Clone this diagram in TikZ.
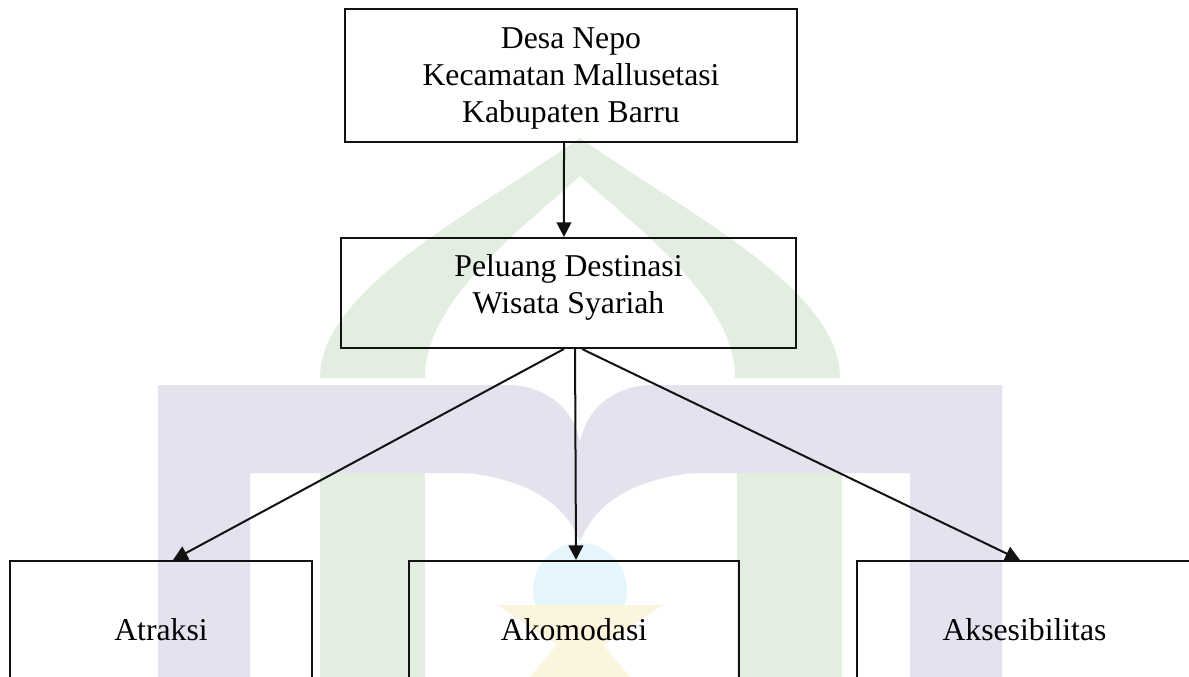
\documentclass[tikz,border=0pt]{standalone}
\usepackage{fontspec}
\setmainfont{Liberation Serif}
\usetikzlibrary{arrows.meta}

\definecolor{wmLavender}{HTML}{E3E3EF}
\definecolor{wmGreen}{HTML}{E2EFE0}
\definecolor{wmBlue}{HTML}{E5F6FC}
\definecolor{wmYellow}{HTML}{FBF5DE}
\definecolor{lineInk}{HTML}{121212}

\begin{document}
\begin{tikzpicture}[x=0.75pt,y=0.75pt,yscale=-1,xscale=1,
    box/.style={draw=lineInk, line width=1.5pt, rectangle, inner sep=0pt, align=center, font=\fontsize{23.8}{27.8}\selectfont},
    arr/.style={draw=lineInk, line width=1.5pt, -{Triangle[length=11pt,width=11pt]}}]
    \useasboundingbox (0,0) rectangle (1189,677);
    \clip (0,0) rectangle (1189,677);

    %Shape: Watermark book [id:lavender]
    \fill [wmLavender] (158,700) -- (158,385) -- (513,385) .. controls (545,388) and (572,405) .. (580,442) .. controls (588,405) and (615,388) .. (647,385) -- (1002,385) -- (1002,700) -- (910,700) -- (910,473) -- (693,473) .. controls (630,480) and (594,505) .. (580,542) .. controls (566,505) and (530,480) .. (467,473) -- (250,473) -- (250,700) -- cycle ;
    %Shape: Watermark dome [id:green]
    \fill [wmGreen] (320,378) .. controls (320,290) and (470,215) .. (580,138) .. controls (690,215) and (840,290) .. (840,378) -- (735,378) .. controls (735,300) and (640,230) .. (580,176) .. controls (520,230) and (425,300) .. (425,378) -- cycle ;
    \fill [wmGreen] (320,473) rectangle (425,700) ;
    \fill [wmGreen] (737,473) rectangle (842,700) ;
    %Shape: Watermark globe [id:blue]
    \fill [wmBlue] (580,590) circle [radius=47] ;
    %Shape: Watermark cross [id:yellow]
    \fill [wmYellow] (497,605) -- (663,605) -- (603,645) -- (650,700) -- (510,700) -- (557,645) -- cycle ;

    % Text Node
    \node [box, minimum width=339pt, minimum height=99.75pt, text depth=0pt] (desa) at (571,75.5) {Desa Nepo\\Kecamatan Mallusetasi\\Kabupaten Barru};
    % Text Node
    \node [box, minimum width=341.25pt, minimum height=82.5pt, text depth=12.9pt] (peluang) at (568.5,293) {Peluang Destinasi\\Wisata Syariah};
    % Text Node
    \node [box, minimum width=226.5pt, minimum height=103.5pt] (atraksi) at (161,630) {Atraksi};
    % Text Node
    \node [box, minimum width=247.5pt, minimum height=103.5pt] (akomodasi) at (574,630) {Akomodasi};
    % Text Node
    \node [box, minimum width=251.25pt, minimum height=103.5pt] (aksesibilitas) at (1024.5,630) {Aksesibilitas};

    %Straight Lines
    \draw [arr] ([xshift=-5.25pt]desa.south) -- ([xshift=-3.4pt]peluang.north) ;
    \draw [arr] ([xshift=-3.4pt]peluang.south) -- ([xshift=9pt]atraksi.north) ;
    \draw [arr] ([xshift=4.9pt]peluang.south) -- ([xshift=1.5pt]akomodasi.north) ;
    \draw [arr] ([xshift=10.1pt]peluang.south) -- ([xshift=-3.4pt]aksesibilitas.north) ;

\end{tikzpicture}
\end{document}
